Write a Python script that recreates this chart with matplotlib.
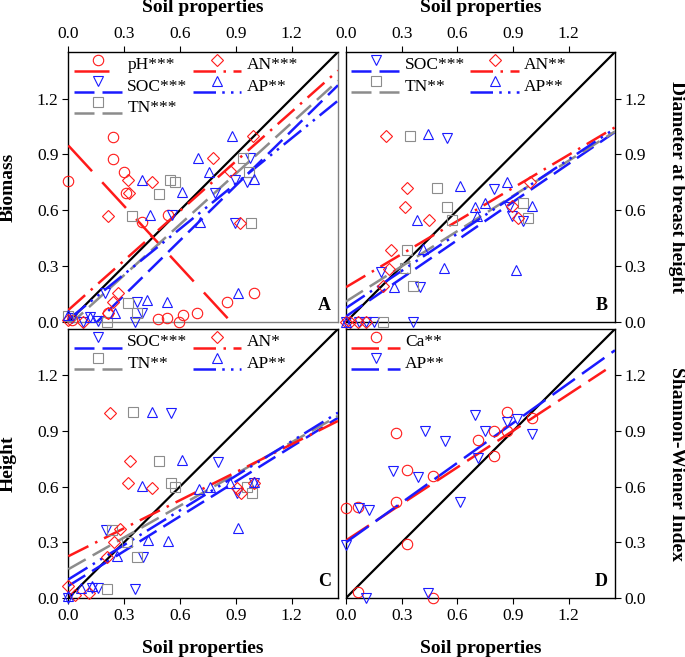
import matplotlib
matplotlib.use('Agg')
import matplotlib.pyplot as plt
import numpy as np
from matplotlib.legend_handler import HandlerBase
from matplotlib.lines import Line2D

plt.rcParams['font.family'] = ['Liberation Serif', 'DejaVu Serif']
plt.rcParams['font.size'] = 12.5

# ---------------- data ----------------
xticks = [0.0, 0.3, 0.6, 0.9, 1.2]
yticks = [0.0, 0.3, 0.6, 0.9, 1.2]

# Panel A : Biomass
A_pH_x = [0.0, 0.242, 0.242, 0.299, 0.31, 0.394, 0.538, 0.851, 1.0, 0.69, 0.618, 0.595, 0.529, 0.484, 0.215, 0.02]
A_pH_y = [0.758, 0.996, 0.878, 0.803, 0.695, 0.539, 0.575, 0.109, 0.154, 0.047, 0.038, 0.002, 0.02, 0.014, 0.047, 0.01]
A_SOC_x = [0.977, 0.959, 0.896, 0.789, 0.896, 0.556, 0.358, 0.394, 0.367, 0.197, 0.161, 0.116, 0.081, 0.018]
A_SOC_y = [0.88, 0.754, 0.763, 0.692, 0.534, 0.575, 0.0, 0.047, 0.109, 0.154, 0.005, 0.029, 0.0, 0.02]
A_TN_x = [0.941, 0.973, 0.98, 0.489, 0.547, 0.573, 0.341, 0.323, 0.368, 0.206, 0.0]
A_TN_y = [0.88, 0.808, 0.534, 0.69, 0.763, 0.754, 0.57, 0.104, 0.047, 0.0, 0.03]
A_AN_x = [0.995, 0.78, 0.87, 0.923, 0.452, 0.328, 0.323, 0.215, 0.269, 0.242, 0.215, 0.0, 0.08]
A_AN_y = [1.0, 0.88, 0.81, 0.534, 0.754, 0.695, 0.763, 0.57, 0.154, 0.109, 0.047, 0.01, 0.0]
A_AP_x = [0.878, 0.699, 0.758, 0.613, 0.394, 0.44, 0.708, 1.0, 0.914, 0.532, 0.425, 0.251, 0.116, 0.0]
A_AP_y = [1.0, 0.88, 0.808, 0.70, 0.763, 0.575, 0.539, 0.77, 0.154, 0.109, 0.118, 0.047, 0.029, 0.038]
A_labels = ['pH***', 'SOC***', 'TN***', 'AN***', 'AP**']
A_slope = [-1.083, 0.981, 0.908, 0.887, 0.811]
A_intercept = [0.948, -0.151, -0.021, 0.064, 0.013]

# Panel B : Diameter at breast height
B_SOC_x = [0.543, 0.8, 0.894, 0.953, 0.4, 0.19, 0.0, 0.07, 0.11, 0.15, 0.363, 0.88]
B_SOC_y = [0.99, 0.715, 0.57, 0.54, 0.19, 0.27, 0.0, 0.0, 0.0, 0.0, 0.0, 0.62]
B_TN_x = [0.345, 0.49, 0.547, 0.57, 0.33, 0.363, 0.953, 0.98, 0.2, 0.32]
B_TN_y = [1.0, 0.72, 0.62, 0.55, 0.385, 0.194, 0.64, 0.56, 0.0, 0.29]
B_AN_x = [0.216, 0.33, 0.32, 0.446, 0.245, 0.234, 0.20, 0.897, 0.926, 0.99, 0.0, 0.02, 0.066, 0.108]
B_AN_y = [1.0, 0.72, 0.62, 0.55, 0.385, 0.284, 0.194, 0.622, 0.56, 0.75, 0.0, 0.0, 0.0, 0.0]
B_AP_x = [0.444, 0.615, 0.87, 0.75, 0.696, 1.0, 0.705, 0.385, 0.417, 0.53, 0.915, 0.26, 0.0]
B_AP_y = [1.01, 0.73, 0.75, 0.64, 0.62, 0.625, 0.57, 0.55, 0.39, 0.29, 0.28, 0.19, 0.0]
B_labels = ['SOC***', 'TN**', 'AN**', 'AP**']
B_slope = [0.683, 0.63, 0.592, 0.665]
B_intercept = [0.03, 0.11, 0.187, 0.075]

# Panel C : Height
C_SOC_x = [0.55, 0.806, 0.905, 1.0, 0.2, 0.403, 0.358, 0.16, 0.125, 0.0]
C_SOC_y = [0.995, 0.735, 0.565, 0.618, 0.364, 0.22, 0.048, 0.054, 0.054, 0.0]
C_TN_x = [0.35, 0.49, 0.55, 0.573, 0.233, 0.314, 0.368, 0.206, 0.986, 0.96]
C_TN_y = [1.0, 0.74, 0.618, 0.6, 0.366, 0.303, 0.219, 0.047, 0.568, 0.60]
C_AN_x = [0.224, 0.33, 0.32, 0.45, 0.28, 0.245, 0.206, 0.0, 0.036, 0.113, 0.905, 0.927, 1.0]
C_AN_y = [0.998, 0.738, 0.618, 0.595, 0.371, 0.3, 0.22, 0.063, 0.018, 0.027, 0.591, 0.565, 0.618]
C_AP_x = [0.45, 0.613, 0.394, 0.7, 0.76, 0.87, 1.0, 0.914, 0.43, 0.537, 0.26, 0.07, 0.125, 0.0]
C_AP_y = [1.0, 0.744, 0.604, 0.59, 0.597, 0.618, 0.624, 0.376, 0.31, 0.305, 0.224, 0.054, 0.063, 0.013]
C_labels = ['SOC***', 'TN**', 'AN*', 'AP**']
C_slope = [0.625, 0.57, 0.503, 0.62]
C_intercept = [0.065, 0.155, 0.225, 0.10]

# Panel D : Shannon-Wiener Index
D_Ca_x = [0.0, 0.067, 0.268, 0.331, 0.268, 0.331, 0.067, 0.468, 0.468, 0.71, 0.8, 0.8, 0.867, 0.867, 1.0]
D_Ca_y = [0.486, 0.49, 0.892, 0.69, 0.52, 0.293, 0.03, 0.0, 0.656, 0.854, 0.9, 0.766, 1.0, 0.9, 0.97]
D_AP_x = [0.0, 0.072, 0.126, 0.108, 0.255, 0.39, 0.426, 0.534, 0.615, 0.696, 0.71, 0.75, 0.867, 0.92, 1.0, 0.444]
D_AP_y = [0.288, 0.486, 0.477, 0.0, 0.685, 0.65, 0.9, 0.846, 0.516, 0.984, 0.755, 0.9, 0.95, 0.964, 0.883, 0.027]
D_labels = ['Ca**', 'AP**']
D_slope = [0.657, 0.714]
D_intercept = [0.31, 0.30]
D_fit_xmax = [1.40, 1.45]

# ---------------- styles ----------------
RED = '#ff1a1a'
BLUE = '#1a1aff'
GREY = '#8c8c8c'
LW = 1.8
STY = {
    'pH':  dict(color=RED, marker='o', ms=7.5, dashes=(14, 6)),
    'SOC': dict(color=BLUE, marker='v', ms=7.5, dashes=(8, 3.2)),
    'TN':  dict(color=GREY, marker='s', ms=6.5, dashes=(8, 3.2)),
    'AN':  dict(color=RED, marker='D', ms=6.5, dashes=(9, 3, 1, 3)),
    'AP':  dict(color=BLUE, marker='^', ms=7.5, dashes=(9, 2.5, 1, 2.5, 1, 2.5)),
    'Ca':  dict(color=RED, marker='o', ms=7.5, dashes=(11, 3.5)),
    'APd': dict(color=BLUE, marker='v', ms=7.5, dashes=(11, 3.5)),
}


class HandlerMarkerOverLine(HandlerBase):
    def create_artists(self, legend, orig_handle, xdescent, ydescent,
                       width, height, fontsize, trans):
        yl = -ydescent - 0.1 * height
        ln = Line2D([-xdescent, -xdescent + width], [yl, yl])
        ln.update_from(orig_handle)
        ln.set_marker('None')
        ln.set_transform(trans)
        mk = Line2D([-xdescent + width / 2], [-ydescent + 0.8 * height])
        mk.update_from(orig_handle)
        mk.set_linestyle('None')
        mk.set_transform(trans)
        return [ln, mk]


fig = plt.figure(figsize=(6.85, 6.57), dpi=100)
W, H = 685.0, 657.0
def rect(l, t, r, b):
    return [l / W, 1 - b / H, (r - l) / W, (b - t) / H]

axA = fig.add_axes(rect(68.3, 52, 338, 322))
axB = fig.add_axes(rect(346, 52, 615, 322))
axC = fig.add_axes(rect(68.3, 329, 338, 598))
axD = fig.add_axes(rect(346, 329, 615, 598))

LIM = 1.45


def draw_panel(ax, keys, xs, ys, labels, slopes, intercepts, xmaxs, letter, ncol):
    ax.set_xlim(0, LIM)
    ax.set_ylim(0, LIM)
    ax.plot([0, LIM], [0, LIM], color='black', lw=1.6, zorder=2)
    handles = []
    for k, x, y, lab, s, b, xm in zip(keys, xs, ys, labels, slopes, intercepts, xmaxs):
        st = STY[k]
        xl = np.array([0.0, xm])
        ax.plot(xl, s * xl + b, color=st['color'], lw=LW, dashes=st['dashes'], zorder=3)
        ax.plot(x, y, linestyle='None', marker=st['marker'], ms=st['ms'],
                mfc='none', mec=st['color'], mew=0.8, clip_on=False, zorder=4)
        h = Line2D([], [], color=st['color'], lw=LW, dashes=st['dashes'],
                   marker=st['marker'], ms=st['ms'], mfc='none', mec=st['color'], mew=0.8)
        handles.append(h)
    ax.legend(handles, labels, ncol=ncol, loc='upper left', bbox_to_anchor=(0.0, 1.0),
              frameon=False, handlelength=2.8, handletextpad=0.3,
              columnspacing=0.3, labelspacing=0.3, borderaxespad=0.1,
              borderpad=0.2, fontsize=12.5,
              handler_map={Line2D: HandlerMarkerOverLine()})
    ax.text(0.95, 0.06, letter, transform=ax.transAxes, fontsize=13,
            fontweight='bold', ha='center', va='center')
    ax.set_xticks(xticks)
    ax.set_yticks(yticks)
    ax.set_xticklabels(['%.1f' % t for t in xticks])
    ax.set_yticklabels(['%.1f' % t for t in yticks])
    for sp in ax.spines.values():
        sp.set_linewidth(1.0)


draw_panel(axA, ['pH', 'SOC', 'TN', 'AN', 'AP'],
           [A_pH_x, A_SOC_x, A_TN_x, A_AN_x, A_AP_x],
           [A_pH_y, A_SOC_y, A_TN_y, A_AN_y, A_AP_y],
           A_labels, A_slope, A_intercept, [LIM] * 5, 'A', 2)
draw_panel(axB, ['SOC', 'TN', 'AN', 'AP'],
           [B_SOC_x, B_TN_x, B_AN_x, B_AP_x],
           [B_SOC_y, B_TN_y, B_AN_y, B_AP_y],
           B_labels, B_slope, B_intercept, [LIM] * 4, 'B', 2)
draw_panel(axC, ['SOC', 'TN', 'AN', 'AP'],
           [C_SOC_x, C_TN_x, C_AN_x, C_AP_x],
           [C_SOC_y, C_TN_y, C_AN_y, C_AP_y],
           C_labels, C_slope, C_intercept, [LIM] * 4, 'C', 2)
draw_panel(axD, ['Ca', 'APd'],
           [D_Ca_x, D_AP_x], [D_Ca_y, D_AP_y],
           D_labels, D_slope, D_intercept, D_fit_xmax, 'D', 1)

axA.spines['bottom'].set_color('#808080')
axA.spines['right'].set_color('#808080')

tp = dict(direction='out', length=4, width=0.8, labelsize=12.5, pad=3)
axA.tick_params(axis='x', top=True, bottom=False, labeltop=True, labelbottom=False, **tp)
axA.tick_params(axis='y', left=True, right=False, labelleft=True, labelright=False, **tp)
axB.tick_params(axis='x', top=True, bottom=False, labeltop=True, labelbottom=False, **tp)
axB.tick_params(axis='y', left=False, right=True, labelleft=False, labelright=True, **tp)
axC.tick_params(axis='x', top=False, bottom=True, labeltop=False, labelbottom=True, **tp)
axC.tick_params(axis='y', left=True, right=False, labelleft=True, labelright=False, **tp)
axD.tick_params(axis='x', top=False, bottom=True, labeltop=False, labelbottom=True, **tp)
axD.tick_params(axis='y', left=False, right=True, labelleft=False, labelright=True, **tp)

lab = dict(fontsize=14, fontweight='bold')
for ax in (axA, axB):
    ax.xaxis.set_label_position('top')
    ax.set_xlabel('Soil properties', va='center', **lab)
    ax.xaxis.set_label_coords(0.5, 1.163)
for ax in (axC, axD):
    ax.set_xlabel('Soil properties', va='center', **lab)
    ax.xaxis.set_label_coords(0.5, -0.186)
for ax, t in ((axA, 'Biomass'), (axC, 'Height')):
    ax.set_ylabel(t, va='center', **lab)
    ax.yaxis.set_label_coords(-0.224, 0.5)
for ax, t in ((axB, 'Diameter at breast height'), (axD, 'Shannon-Wiener Index')):
    ax.yaxis.set_label_position('right')
    ax.set_ylabel(t, va='center', rotation=270, **lab)
    ax.yaxis.set_label_coords(1.23, 0.5)

fig.savefig('out.png', dpi=100)
